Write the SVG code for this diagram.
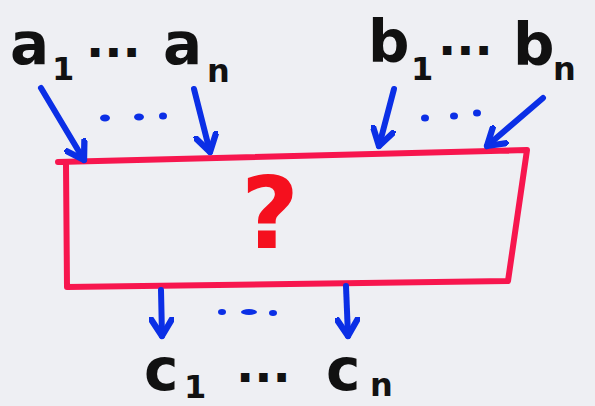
<svg xmlns="http://www.w3.org/2000/svg" width="595" height="406" viewBox="0 0 595 406">
<style>
.lbl{font-family:"DejaVu Sans",sans-serif;font-weight:bold;fill:#111;}
.big{font-size:58px;}
.sub{font-size:32px;}
.dots{font-size:48px;}
.arr{stroke:#0b2fe6;stroke-width:6;stroke-linecap:round;fill:none;marker-end:url(#head);}
.bd{fill:#0b2fe6;}
</style>
<defs>
<marker id="head" viewBox="0 0 12 12" refX="9" refY="6" markerWidth="4.2" markerHeight="4.2" orient="auto" markerUnits="strokeWidth">
<path d="M1,1 L9,6 L1,11" fill="none" stroke="#0b2fe6" stroke-width="3" stroke-linecap="round" stroke-linejoin="round"/>
</marker>
</defs>
<rect width="595" height="406" fill="#eeeff3"/>
<g id="node-box">
<path d="M58,162 L527,150 L508,281 L67,287 M66,165 L67,287" fill="none" stroke="#f7164e" stroke-width="6" stroke-linejoin="round" stroke-linecap="round"/>
<text x="270" y="248" text-anchor="middle" font-family="DejaVu Sans, sans-serif" font-weight="bold" font-size="100" fill="#f5101e">?</text>
</g>
<g id="node-a">
<text class="lbl big" x="10" y="64">a</text>
<text class="lbl sub" x="52" y="80">1</text>
<text class="lbl dots" x="86" y="69">···</text>
<text class="lbl big" x="163" y="64">a</text>
<text class="lbl sub" x="207" y="82">n</text>
</g>
<g id="node-b">
<text class="lbl big" x="368" y="62">b</text>
<text class="lbl sub" x="411" y="80">1</text>
<text class="lbl dots" x="438" y="67">···</text>
<text class="lbl big" x="513" y="65">b</text>
<text class="lbl sub" x="553" y="80">n</text>
</g>
<g id="node-c">
<text class="lbl big" x="144" y="390">c</text>
<text class="lbl sub" x="184" y="398">1</text>
<text class="lbl dots" x="236" y="394">···</text>
<text class="lbl big" x="326" y="390">c</text>
<text class="lbl sub" x="370" y="396">n</text>
</g>
<g id="connectors">
<path class="arr" d="M41,88 L84,160"/>
<path class="arr" d="M194,89 L210,152"/>
<path class="arr" d="M394,89 L379,146"/>
<path class="arr" d="M543,98 L487,146"/>
<path class="arr" d="M161,290 L162,336"/>
<path class="arr" d="M346,286 L348,336"/>
<ellipse class="bd" cx="105" cy="118" rx="5" ry="3.5"/>
<ellipse class="bd" cx="139" cy="117" rx="5" ry="3.5"/>
<ellipse class="bd" cx="163" cy="116" rx="4" ry="3.5"/>
<ellipse class="bd" cx="425" cy="118" rx="4" ry="3.5"/>
<ellipse class="bd" cx="454" cy="116" rx="4" ry="3.5"/>
<ellipse class="bd" cx="477" cy="113" rx="4" ry="3.5"/>
<ellipse class="bd" cx="222" cy="312" rx="4" ry="3"/>
<ellipse class="bd" cx="249" cy="312" rx="8" ry="3"/>
<ellipse class="bd" cx="273" cy="313" rx="4" ry="3"/>
</g>
</svg>
